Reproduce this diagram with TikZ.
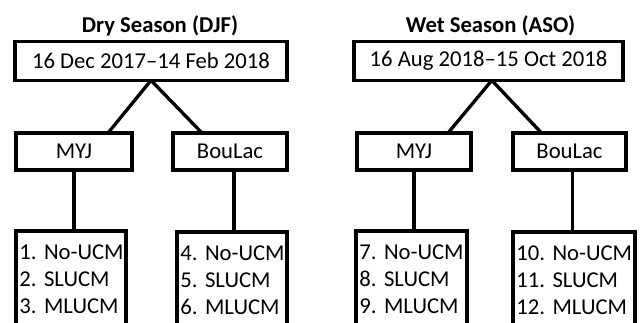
\documentclass[tikz,border=0pt]{standalone}
\usepackage{fontspec}
\setmainfont{Carlito}
\usepackage{tikz}
\frenchspacing

\begin{document}
\begin{tikzpicture}[x=0.75pt, y=-0.75pt,
			kasten/.style={draw, line width=2.5pt, minimum height=27.75pt, inner sep=0pt, outer sep=0pt, font=\fontsize{17}{20}\selectfont},
			liste/.style={anchor=north west, align=left, text width=#1, inner xsep=2.5pt, inner ysep=10pt, outer sep=0pt, font=\fontsize{17}{20.25}\selectfont},
			titel/.style={font=\fontsize{17}{20}\selectfont\bfseries},
			linie/.style={line width=2.5pt}]
			%Bildbereich
			\useasboundingbox (0,0) rectangle (640,322);
			\clip (0,0) rectangle (640,322);
			% Trockenzeit
			\node[titel] (t1) at (160,26) {Dry Season (DJF)};
			\node[kasten, minimum width=204pt, minimum height=29pt] (z1) at (151,61) {16 Dec 2017–14 Feb 2018};
			\node[kasten, minimum width=87pt] (m1) at (74,151.5) {MYJ};
			\node[kasten, minimum width=85.5pt] (b1) at (230,151.5) {BouLac};
			\node[liste=77.5pt] (l1) at (16,231) {\mbox{1. No-UCM}\\2. SLUCM\\3. MLUCM};
			\node[liste=77.5pt] (l2) at (177,232) {\mbox{4. No-UCM}\\5. SLUCM\\6. MLUCM};
			% Regenzeit
			\node[titel] (t2) at (490.5,26) {Wet Season (ASO)};
			\node[kasten, minimum width=201.75pt, minimum height=29pt] (z2) at (488.5,61) {16 Aug 2018–15 Oct 2018};
			\node[kasten, minimum width=85.5pt] (m2) at (414,151.5) {MYJ};
			\node[kasten, minimum width=84.75pt] (b2) at (569.5,151.5) {BouLac};
			\node[liste=78.25pt] (l3) at (356,231) {\mbox{7. No-UCM}\\8. SLUCM\\9. MLUCM};
			\node[liste=86.5pt] (l4) at (513,232) {\mbox{10. No-UCM}\\11. SLUCM\\12. MLUCM};
			% Listen umrahmen (unten offen)
			\foreach \l in {l1,l2,l3,l4}
				\draw[linie] ([yshift=-30pt]\l.south west) |- (\l.north east) -- ([yshift=-30pt]\l.south east);
			% Verbindungen
			\draw[linie] (z1.south) -- ([xshift=25.5pt]m1.north);
			\draw[linie] (z1.south) -- ([xshift=-21pt]b1.north);
			\draw[linie] (m1.south) -- (m1.south |- l1.north);
			\draw[linie] ([xshift=3pt]b1.south) -- ([xshift=3pt]b1.south |- l2.north);
			\draw[linie] ([xshift=2.5pt]z2.south) -- ([xshift=25.5pt]m2.north);
			\draw[linie] ([xshift=2.5pt]z2.south) -- ([xshift=-21pt]b2.north);
			\draw[linie] (m2.south) -- (m2.south |- l3.north);
			\draw[linie] ([xshift=2pt]b2.south) -- ([xshift=2pt]b2.south |- l4.north);
		\end{tikzpicture}
\end{document}
